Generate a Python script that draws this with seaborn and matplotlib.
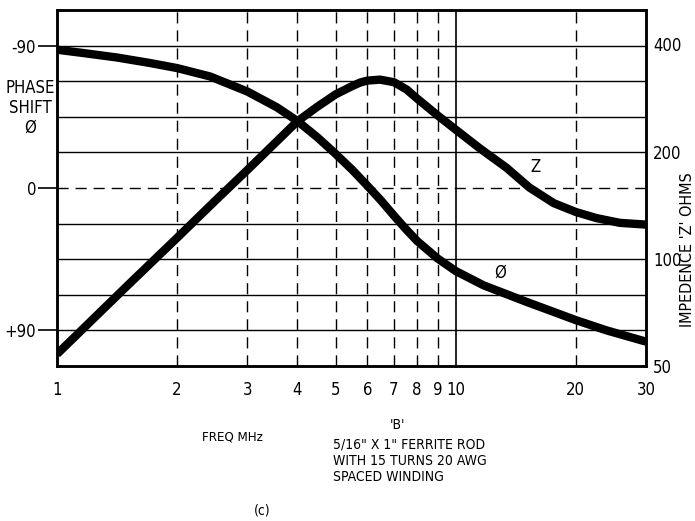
import matplotlib
matplotlib.use("Agg")
import matplotlib.pyplot as plt
import seaborn as sns
from matplotlib.ticker import NullLocator

# Values
freq_phase = [1, 1.164, 1.412, 1.711, 2, 2.42, 3, 3.56, 4, 4.5, 5, 5.5, 6, 6.5, 7, 7.5, 8, 9, 10,
              11.74, 15.06, 17.9, 20, 23.9, 30]
phase_deg = [-87.4, -85.3, -82.5, -79.0, -75.8, -70.5, -61.0, -51.0, -42.5, -32.0, -21.5, -11.5, -1.5,
             8.0, 17.5, 26.0, 33.5, 44.5, 52.5, 61.5, 72.0, 79.0, 83.5, 90.0, 97.1]

freq_z = [1, 1.5, 2, 2.5, 3, 3.5, 4, 4.5, 5, 5.5, 5.76, 6, 6.46, 7, 7.53, 8, 9, 10, 11.5,
          13.4, 15.3, 17.6, 20, 22.5, 25.8, 30]
z_ohms = [54, 84, 114.5, 146, 177.5, 210, 243, 267.6, 289.8, 305.7, 312.8, 316.7, 318.7, 313.4,
          299, 282, 253, 230.6, 204.2, 180.3, 158.6, 143.4, 135.4, 130.2, 126.2, 124.8]

x_ticks = [1, 2, 3, 4, 5, 6, 7, 8, 9, 10, 20, 30]
phase_ticks = [-90, 0, 90]
phase_tick_labels = ["-90", "0", "+90"]
phase_grid = [-90, -67.5, -45, -22.5, 22.5, 45, 67.5, 90]
z_ticks = [50, 100, 200, 400]
dashed_freqs = [2, 3, 4, 5, 6, 7, 8, 9, 20]

sns.set_style("white")
plt.rcParams["font.family"] = ["DejaVu Sans"]
plt.rcParams["font.stretch"] = "condensed"
plt.rcParams["text.color"] = "black"
plt.rcParams["xtick.color"] = "black"
plt.rcParams["ytick.color"] = "black"

W, H = 695, 521
fig = plt.figure(figsize=(W / 100, H / 100), dpi=100)
ax = fig.add_axes([57 / W, 1 - 366 / H, (646 - 57) / W, (366 - 10) / H])


def fx(px):
    return px / W


def fy(py):
    return 1 - py / H


# -----------------------------
# Grid
# -----------------------------
for p in phase_grid:
    ax.axhline(p, color="black", lw=1.0, zorder=1)
ax.axhline(0, color="black", lw=1.0, ls=(0, (8, 5)), zorder=1)
for f in dashed_freqs:
    ax.axvline(f, color="black", lw=1.0, ls=(0, (8, 5)), zorder=1)
ax.axvline(10, color="black", lw=1.2, zorder=1)

# -----------------------------
# Phase curve
# -----------------------------
sns.lineplot(x=freq_phase, y=phase_deg, ax=ax, color="black", lw=6,
             solid_capstyle="butt", solid_joinstyle="round", zorder=3)

ax.set_xscale("log")
ax.set_xlim(1, 30)
ax.set_ylim(112.5, -112.5)
ax.set_xticks(x_ticks)
ax.set_xticklabels([str(t) for t in x_ticks])
ax.xaxis.set_minor_locator(NullLocator())
ax.set_yticks(phase_ticks)
ax.set_yticklabels(phase_tick_labels)
ax.tick_params(axis="x", direction="out", length=10, width=1.5, pad=1, labelsize=12)
ax.tick_params(axis="y", direction="out", length=14, width=1.2, pad=1, labelsize=12)
ax.set_xlabel("")
ax.set_ylabel("")
for s in ax.spines.values():
    s.set_linewidth(1.8)
    s.set_color("black")

# -----------------------------
# Impedance curve
# -----------------------------
ax2 = ax.twinx()
sns.lineplot(x=freq_z, y=z_ohms, ax=ax2, color="black", lw=6,
             solid_capstyle="butt", solid_joinstyle="round", zorder=3)
ax2.set_yscale("log")
ax2.set_ylim(50, 500)
ax2.set_yticks(z_ticks)
ax2.set_yticklabels([str(t) for t in z_ticks])
ax2.yaxis.set_minor_locator(NullLocator())
ax2.tick_params(axis="y", length=0, pad=5, labelsize=12)
ax2.set_xlabel("")
ax2.set_ylabel("")
for s in ax2.spines.values():
    s.set_linewidth(1.8)
    s.set_color("black")

# -----------------------------
# Labels
# -----------------------------
fig.text(fx(30), fy(108), "PHASE\nSHIFT\nØ", ha="center", va="center",
         fontsize=12, linespacing=1.15)
fig.text(fx(687), fy(250), "IMPEDENCE 'Z' OHMS", rotation=90,
         ha="center", va="center", fontsize=11.5)
fig.text(fx(535), fy(167), "Z", ha="center", va="center", fontsize=12)
fig.text(fx(500), fy(273), "Ø", ha="center", va="center", fontsize=12)

fig.text(fx(232), fy(437), "FREQ MHz", ha="center", va="center", fontsize=9.5)
fig.text(fx(398), fy(425), "'B'", ha="center", va="center", fontsize=10)
fig.text(fx(333), fy(461),
         "5/16\" X 1\" FERRITE ROD\nWITH 15 TURNS 20 AWG\nSPACED WINDING",
         ha="left", va="center", fontsize=10, linespacing=1.2)
fig.text(fx(262), fy(511), "(c)", ha="center", va="center", fontsize=10)

fig.savefig("out.png", dpi=100)
plt.close(fig)
